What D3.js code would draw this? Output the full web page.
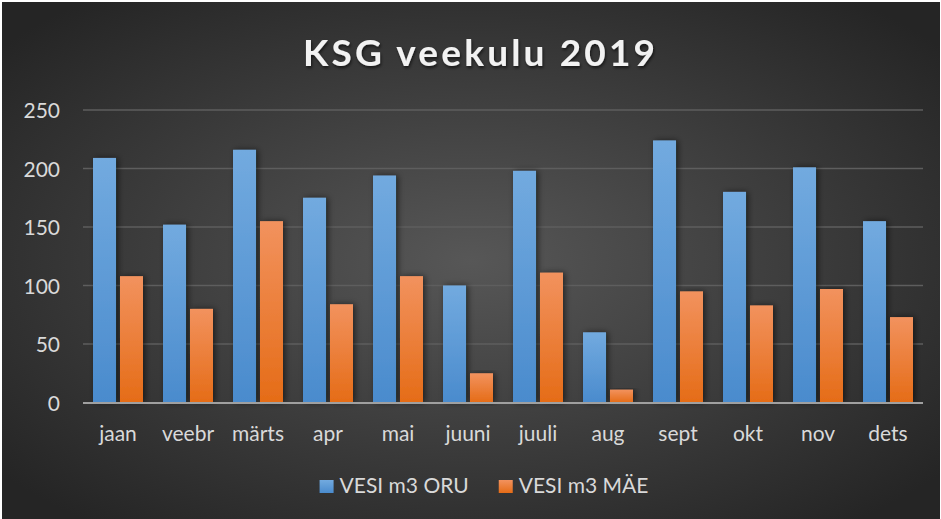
<!DOCTYPE html>
<html>
<head>
<meta charset="utf-8">
<script src="https://cdn.jsdelivr.net/npm/d3@7"></script>
<style>
  html, body { margin: 0; padding: 0; background: #ffffff; }
  svg { display: block; }
</style>
</head>
<body>
<svg id="chart" width="941" height="519"></svg>
<script>
// Monthly water use, 2019
const months = ["jaan", "veebr", "märts", "apr", "mai", "juuni", "juuli", "aug", "sept", "okt", "nov", "dets"];
const seriesNames = ["VESI m3 ORU", "VESI m3 MÄE"];
const oruValues = [209, 152, 216, 175, 194, 100, 198, 60, 224, 180, 201, 155];
const maeValues = [108, 80, 155, 84, 108, 25, 111, 11, 95, 83, 97, 73];
const yTicks = [0, 50, 100, 150, 200, 250];
const title = "KSG veekulu 2019";

const seriesColors = [
  { top: "#72aadf", bottom: "#4a8bcd" },
  { top: "#f2925e", bottom: "#e56c17" }
];

const svg = d3.select("#chart");
const W = 941, H = 519;
const font = "Lato, 'Open Sans', sans-serif";

const defs = svg.append("defs");

// background: soft radial light in the middle of a dark panel
const bg = defs.append("radialGradient").attr("id", "bgGrad")
  .attr("cx", "50%").attr("cy", "50%").attr("r", "65%");
bg.append("stop").attr("offset", "0%").attr("stop-color", "#575757");
bg.append("stop").attr("offset", "100%").attr("stop-color", "#252525");

seriesColors.forEach((c, i) => {
  const g = defs.append("linearGradient").attr("id", "barGrad" + i)
    .attr("x1", 0).attr("y1", 0).attr("x2", 0).attr("y2", 1);
  g.append("stop").attr("offset", "0%").attr("stop-color", c.top);
  g.append("stop").attr("offset", "100%").attr("stop-color", c.bottom);
});

const shadow = defs.append("filter").attr("id", "barShadow")
  .attr("x", "-50%").attr("y", "-10%").attr("width", "200%").attr("height", "120%");
shadow.append("feDropShadow").attr("dx", 2).attr("dy", 0).attr("stdDeviation", 3)
  .attr("flood-color", "#000").attr("flood-opacity", 0.55);

const tShadow = defs.append("filter").attr("id", "titleShadow")
  .attr("x", "-10%").attr("y", "-30%").attr("width", "120%").attr("height", "160%");
tShadow.append("feDropShadow").attr("dx", 1).attr("dy", 2).attr("stdDeviation", 1.5)
  .attr("flood-color", "#000").attr("flood-opacity", 0.6);

svg.append("rect").attr("x", 2).attr("y", 2).attr("width", W - 3).attr("height", H - 2)
  .attr("fill", "url(#bgGrad)");

// plot area
const plot = { left: 83, right: 923, top: 110, bottom: 402.5 };

const x = d3.scaleBand().domain(months).range([plot.left, plot.right]).padding(0);
const step = x.bandwidth();
const xInner = d3.scaleBand().domain(seriesNames)
  .range([step * 10 / 70, step * 60 / 70]).paddingInner(0.148).paddingOuter(0);
const y = d3.scaleLinear().domain([0, 250]).range([plot.bottom, plot.top]);

// gridlines
svg.append("g").selectAll("line").data(yTicks.filter(t => t > 0)).join("line")
  .attr("x1", plot.left).attr("x2", plot.right)
  .attr("y1", d => y(d)).attr("y2", d => y(d))
  .attr("stroke", "#5e5e5e").attr("stroke-width", 1.5);

// y axis labels
const yAxis = d3.axisLeft(y).tickValues(yTicks).tickSize(0).tickPadding(23);
const yg = svg.append("g").attr("transform", `translate(${plot.left},0)`).call(yAxis);
yg.select(".domain").remove();
yg.selectAll("text").attr("fill", "#d9d9d9").style("font-family", font).style("font-size", "21px")
  .attr("dy", "0.36em");

// bars
const rows = months.map((m, i) => ({ month: m, values: [oruValues[i], maeValues[i]] }));
const groups = svg.append("g").selectAll("g").data(rows).join("g")
  .attr("transform", d => `translate(${x(d.month)},0)`);
groups.selectAll("rect")
  .data(d => d.values.map((v, k) => ({ key: seriesNames[k], k, v })))
  .join("rect")
  .attr("x", d => xInner(d.key))
  .attr("width", xInner.bandwidth())
  .attr("y", d => y(d.v))
  .attr("height", d => y(0) - y(d.v))
  .attr("fill", d => `url(#barGrad${d.k})`)
  .attr("filter", "url(#barShadow)");

// category axis
const xAxis = d3.axisBottom(x).tickSize(0).tickPadding(0);
const xg = svg.append("g").attr("transform", `translate(0,${plot.bottom})`).call(xAxis);
xg.select(".domain").remove();
xg.selectAll("text").attr("fill", "#d9d9d9").style("font-family", font).style("font-size", "21px")
  .attr("y", 38).attr("dy", 0);
svg.append("line").attr("x1", plot.left).attr("x2", plot.right)
  .attr("y1", y(0) + 0.5).attr("y2", y(0) + 0.5)
  .attr("stroke", "#a0a0a0").attr("stroke-width", 2);

// title, spaced out to its width
const t = svg.append("text").attr("x", 479).attr("y", 66).attr("text-anchor", "middle")
  .attr("fill", "#f2f2f2").style("font-family", font).style("font-size", "37px")
  .style("font-weight", "700").attr("filter", "url(#titleShadow)").text(title);
const natural = t.node().getComputedTextLength();
const spacing = (352 - natural) / (title.length - 1);
t.style("letter-spacing", spacing + "px").attr("x", 479 + spacing / 2);

// legend
const legend = svg.append("g");
let cursor = 0;
seriesNames.forEach((name, i) => {
  const g = legend.append("g").attr("transform", `translate(${cursor},0)`);
  g.append("rect").attr("x", 0).attr("y", -13).attr("width", 14).attr("height", 13)
    .attr("fill", `url(#barGrad${i})`);
  const tx = g.append("text").attr("x", 20).attr("y", 0).attr("fill", "#d9d9d9")
    .style("font-family", font).style("font-size", "21px").text(name);
  const w = 20 + tx.node().getComputedTextLength();
  cursor += w + 30;
});
const legendWidth = cursor - 30;
legend.attr("transform", `translate(${484 - legendWidth / 2},493)`);
</script>
</body>
</html>
